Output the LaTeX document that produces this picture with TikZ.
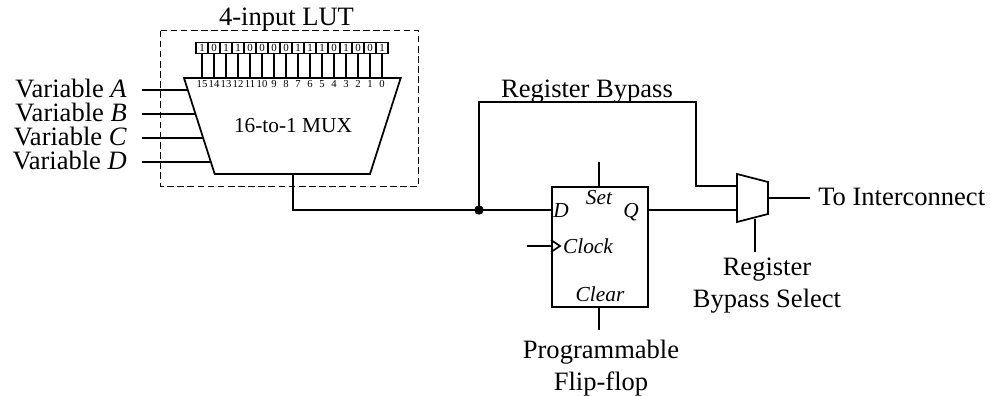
\documentclass[tikz,border=0pt]{standalone}
\usepackage{fontspec}
\setmainfont{Liberation Serif}
\usetikzlibrary{calc}
\tikzset{
  wire/.style={line width=1.25pt,line cap=butt,line join=miter},
  shapeln/.style={line width=1.3pt,line join=miter},
  big/.style={inner sep=0pt,anchor=base,font=\fontsize{19.9}{24}\selectfont},
  ital/.style={inner sep=0pt,anchor=base,font=\fontsize{16}{19}\selectfont\itshape},
  bit/.style={draw,line width=0.9pt,minimum width=9pt,minimum height=8.2pt,inner sep=0pt,font=\fontsize{8.2}{9}\selectfont},
  idx/.style={inner sep=0pt,anchor=base,font=\fontsize{8}{9}\selectfont},
  two/.style={inner sep=0pt,align=center,font=\fontsize{19.9}{23.7}\selectfont},
}
\begin{document}
\begin{tikzpicture}[x=0.75pt,y=-0.75pt]
\useasboundingbox (0,0) rectangle (990,396);
% LUT boundary
\draw[dashed,line width=0.75pt,dash pattern=on 5pt off 2.6pt] (160.5,30.5) rectangle (418.7,186);
\node[big] (lutlabel) at (286.5,26) {4-input LUT};
% 16-to-1 mux
\coordinate (mtl) at (184,78);
\coordinate (mtr) at (400.7,78);
\coordinate (mbr) at (370,174);
\coordinate (mbl) at (214.7,174);
\draw[shapeln] (mtl) -- (mtr) -- (mbr) -- (mbl) -- cycle;
\node[inner sep=0pt,anchor=base,font=\fontsize{16}{20}\selectfont] (muxlabel) at (293,132.7) {16-to-1 MUX};
% configuration bits
\foreach \b [count=\i from 0, evaluate=\i as \k using int(15-\i), evaluate=\i as \cx using 202+12*\i] in {1,0,1,1,0,0,0,0,1,1,1,0,1,0,0,1} {
  \node[bit] (c\k) at (\cx,48) {\b};
  \coordinate (p\k) at (\cx,78);
  \draw[wire] (c\k.south) -- (p\k);
  \node[idx] (n\k) at (\cx,87) {\k};
}
% inputs
\foreach \l/\y in {A/90,B/114,C/138,D/162} {
  \coordinate (i\l) at (142,\y);
  \coordinate (e\l) at ($(mtl)!{(\y-78)/96}!(mbl)$);
  \draw[wire] (i\l) -- (e\l);
}
\node[big,anchor=base east] (la) at (127,97) {Variable \textit{A}};
\node[big,anchor=base east] (lb) at (127,121) {Variable \textit{B}};
\node[big,anchor=base east] (lc) at (127,145) {Variable \textit{C}};
\node[big,anchor=base east] (ld) at (127,169) {Variable \textit{D}};
% flip-flop
\node[draw,shapeln,minimum width=72pt,minimum height=90pt,inner sep=0pt,anchor=north west] (ff) at (551,186) {};
\coordinate (ffd) at (551,210);
\coordinate (ffq) at (647,210);
\coordinate (clkin) at (527,246);
\coordinate (clkp) at (551,246);
\coordinate (setin) at (599,162);
\coordinate (setp) at (599,186);
\coordinate (clrin) at (599,330);
\coordinate (clrp) at (599,306);
\draw[wire] (setin) -- (setp);
\draw[wire] (clrp) -- (clrin);
\draw[wire] (clkin) -- (clkp);
\draw[wire] (551,240) -- (560,246) -- (551,252);
\node[ital] (dl) at (561,217) {D};
\node[ital] (ql) at (631,217) {Q};
\node[ital] (setl) at (599,204) {Set};
\node[ital] (clkl) at (588,253) {Clock};
\node[ital] (clrl) at (600,301) {Clear};
% output mux
\coordinate (otl) at (737,174);
\coordinate (otr) at (768,182);
\coordinate (obr) at (768,214);
\coordinate (obl) at (737,222);
\draw[shapeln] (otl) -- (otr) -- (obr) -- (obl) -- cycle;
\coordinate (oa) at (737,186);
\coordinate (ob) at (737,210);
\coordinate (oo) at (768,198);
\coordinate (oend) at (810,198);
\coordinate (osel) at (755,218.6);
\coordinate (oselin) at (755,252);
\draw[wire] (oo) -- (oend);
\draw[wire] (osel) -- (oselin);
% nets
\coordinate (lutout) at (293,174);
\coordinate (j) at (479,210);
\coordinate (bytl) at (479,102);
\coordinate (bytr) at (696,102);
\coordinate (bybr) at (696,186);
\draw[wire] (lutout) |- (j) -- (ffd);
\draw[wire] (j) -- (bytl) -- (bytr) -- (bybr) -- (oa);
\draw[wire] (ffq) -- (ob);
\fill (j) circle (4.7);
% labels
\node[big] (byp) at (587,97) {Register Bypass};
\node[big,anchor=base west] (toi) at (818,205) {To Interconnect};
\node[two] (regsel) at (767,285.5) {Register\\Bypass Select};
\node[two] (pff) at (601,368.3) {Programmable\\Flip-flop};
\end{tikzpicture}
\end{document}
